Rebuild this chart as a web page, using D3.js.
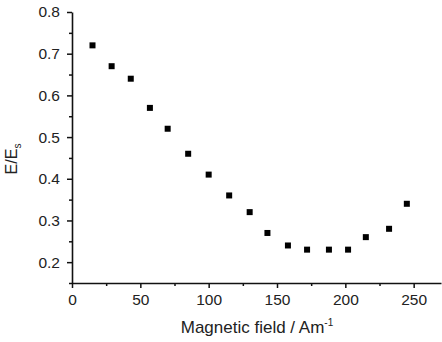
<!DOCTYPE html>
<html>
<head>
<meta charset="utf-8">
<script src="https://cdn.jsdelivr.net/npm/d3@7"></script>
<style>
	body { margin: 0; background: #fff; }
	svg text { font-family: "Liberation Sans", Arial, sans-serif; fill: #222; }
</style>
</head>
<body>
<div class="graph"></div>
<script>
var field = [15, 29, 43, 57, 70, 85, 100, 115, 130, 143, 158, 172, 188, 202, 215, 232, 245];
var ratio = [0.72, 0.67, 0.64, 0.57, 0.52, 0.46, 0.41, 0.36, 0.32, 0.27, 0.24, 0.23, 0.23, 0.23, 0.26, 0.28, 0.34];
var xTicks = [0, 50, 100, 150, 200, 250];
var yTicks = [0.2, 0.3, 0.4, 0.5, 0.6, 0.7, 0.8];
var xMinor = [25, 75, 125, 175, 225];
var yMinor = [0.15, 0.25, 0.35, 0.45, 0.55, 0.65, 0.75];

const WIDTH = 442;
const HEIGHT = 342;
const LEFT = 72, TOP = 12, RIGHT = 441, BOTTOM = 283;

var xScale = d3.scaleLinear().domain([0, 270]).range([LEFT, RIGHT]);
var yScale = d3.scaleLinear().domain([0.15, 0.8]).range([BOTTOM, TOP]);

var svg = d3.select(".graph").append("svg")
	.attr("width", WIDTH)
	.attr("height", HEIGHT);

// minor ticks first, then major axes over them
svg.append("g")
	.attr("transform", "translate(0," + BOTTOM + ")")
	.call(d3.axisBottom(xScale).tickValues(xMinor).tickSize(3).tickFormat(""))
	.call(function(g){ g.select(".domain").remove(); })
	.selectAll("line").attr("stroke", "#111").attr("stroke-width", 1.5);

svg.append("g")
	.attr("transform", "translate(" + LEFT + ",0)")
	.call(d3.axisLeft(yScale).tickValues(yMinor).tickSize(3).tickFormat(""))
	.call(function(g){ g.select(".domain").remove(); })
	.selectAll("line").attr("stroke", "#111").attr("stroke-width", 1.5);

var xAxis = svg.append("g")
	.attr("transform", "translate(0," + BOTTOM + ")")
	.call(d3.axisBottom(xScale).tickValues(xTicks).tickSize(5).tickSizeOuter(0).tickPadding(6));

var yAxis = svg.append("g")
	.attr("transform", "translate(" + LEFT + ",0)")
	.call(d3.axisLeft(yScale).tickValues(yTicks).tickSize(5).tickSizeOuter(0).tickPadding(7).tickFormat(d3.format(".1f")));

[xAxis, yAxis].forEach(function(ax){
	ax.select(".domain").attr("stroke", "#111").attr("stroke-width", 1.6);
	ax.selectAll(".tick line").attr("stroke", "#111").attr("stroke-width", 1.5);
	ax.selectAll("text").attr("font-size", 15.5).attr("fill", "#222");
});

svg.append("g").selectAll("rect")
	.data(field)
	.enter().append("rect")
	.attr("x", function(d){ return xScale(d) - 3; })
	.attr("y", function(d, i){ return yScale(ratio[i]) - 3; })
	.attr("width", 6)
	.attr("height", 6)
	.attr("fill", "#000");

var xt = svg.append("text")
	.attr("x", 257)
	.attr("y", 333)
	.attr("text-anchor", "middle")
	.attr("font-size", 17);
xt.append("tspan").text("Magnetic field / Am");
xt.append("tspan").attr("dy", -7).attr("font-size", 10).text("-1");

var yt = svg.append("text")
	.attr("transform", "translate(17,159) rotate(-90)")
	.attr("text-anchor", "middle")
	.attr("font-size", 16);
yt.append("tspan").text("E/E");
yt.append("tspan").attr("dy", 4).attr("font-size", 10).text("s");
</script>
</body>
</html>
